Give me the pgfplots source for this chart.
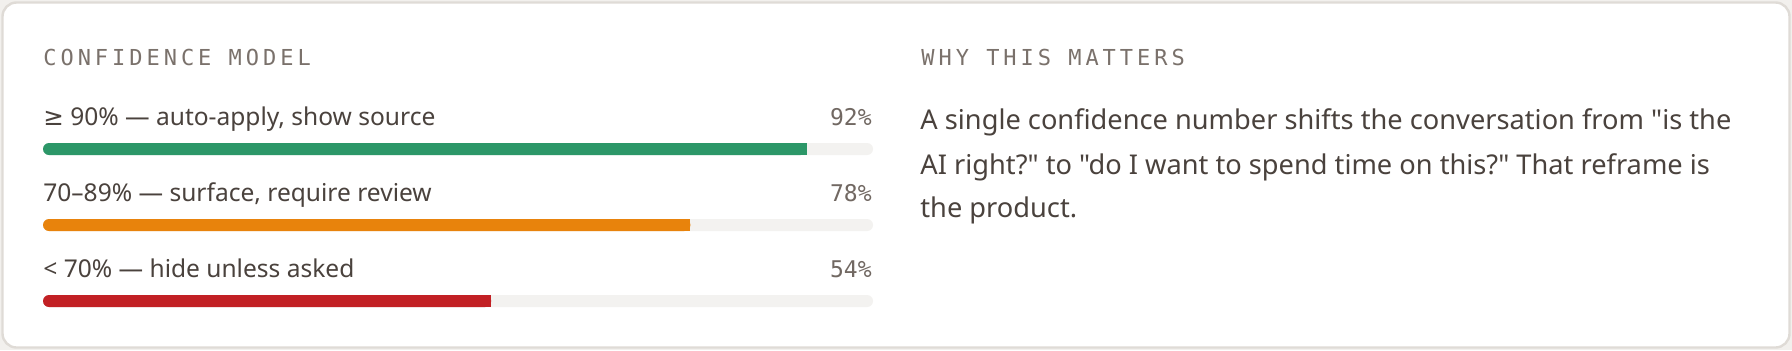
\documentclass[border=0pt]{standalone}
\usepackage{fontspec}
\usepackage{pgfplots}
\pgfplotsset{compat=1.18}
\usepackage{pgfplotstable}
\setmainfont{Noto Sans}[Ligatures=TeXOff]
\newfontfamily\monofont{DejaVu Sans Mono}
\newfontfamily\monospaced[LetterSpace=18]{DejaVu Sans Mono}
\newfontfamily\symfont{DejaVu Sans}
\definecolor{txt}{HTML}{4A423D}
\definecolor{muted}{HTML}{716862}
\definecolor{headc}{HTML}{7A716B}
\definecolor{trackc}{HTML}{F3F2F0}
\definecolor{greenc}{HTML}{2C9768}
\definecolor{orangec}{HTML}{E8830C}
\definecolor{redc}{HTML}{C22024}
\definecolor{borderc}{HTML}{DFDBD6}
\definecolor{outsidec}{HTML}{F2F0ED}
\newlength\tmpw
\begin{document}
\settowidth\tmpw{\fontsize{12pt}{14pt}\selectfont{\symfont ≥} 90\% — auto-apply, show source}%
\pgfmathsetmacro\lsize{12*196/\tmpw}%
\settowidth\tmpw{\fontsize{12pt}{14pt}\selectfont A single confidence number shifts the conversation from "is the}%
\pgfmathsetmacro\psize{12*405.5/\tmpw}%
\begin{tikzpicture}[x=0.5pt,y=0.5pt]
\path[use as bounding box, fill=outsidec] (0,0) rectangle (1792,350);
\draw[borderc, line width=1.2pt, fill=white, rounded corners=7pt] (2.5,2.5) rectangle (1789.5,347.5);
\begin{axis}[at={(21.5pt,21.5pt)}, anchor=south west, scale only axis,
  width=415pt, height=82pt, xmin=0, xmax=100,
  ymin=0.921053, ymax=3.078947, y dir=reverse, hide axis, clip=false]
% tracks (100%)
\addplot[fill=trackc, draw=none, rounded corners=3pt] coordinates {(0,0.921053) (100,0.921053) (100,1.078947) (0,1.078947)} -- cycle;
\addplot[fill=trackc, draw=none, rounded corners=3pt] coordinates {(0,1.921053) (100,1.921053) (100,2.078947) (0,2.078947)} -- cycle;
\addplot[fill=trackc, draw=none, rounded corners=3pt] coordinates {(0,2.921053) (100,2.921053) (100,3.078947) (0,3.078947)} -- cycle;
% values: 92, 78, 54
\addplot[fill=greenc, draw=none, rounded corners=3pt] coordinates {(0,0.921053) (92,0.921053) (92,1.078947) (0,1.078947)} -- cycle;
\addplot[fill=greenc, draw=none] coordinates {(46,0.921053) (92,0.921053) (92,1.078947) (46,1.078947)} -- cycle;
\addplot[fill=orangec, draw=none, rounded corners=3pt] coordinates {(0,1.921053) (78,1.921053) (78,2.078947) (0,2.078947)} -- cycle;
\addplot[fill=orangec, draw=none] coordinates {(39,1.921053) (78,1.921053) (78,2.078947) (39,2.078947)} -- cycle;
\addplot[fill=redc, draw=none, rounded corners=3pt] coordinates {(0,2.921053) (54,2.921053) (54,3.078947) (0,3.078947)} -- cycle;
\addplot[fill=redc, draw=none] coordinates {(27,2.921053) (54,2.921053) (54,3.078947) (27,3.078947)} -- cycle;
\end{axis}
% headers
\node[anchor=base west, inner sep=0, text=headc] at (43,285) {\monospaced\fontsize{11pt}{13pt}\selectfont CONFIDENCE MODEL};
\node[anchor=base west, inner sep=0, text=headc] at (921,285) {\monospaced\fontsize{11pt}{13pt}\selectfont WHY THIS MATTERS};
% labels
\node[anchor=base west, inner sep=0, text=txt] at (43,225) {\fontsize{\lsize pt}{\lsize pt}\selectfont{\symfont ≥} 90\% — auto-apply, show source};
\node[anchor=base west, inner sep=0, text=txt] at (43,149) {\fontsize{\lsize pt}{\lsize pt}\selectfont 70–89\% — surface, require review};
\node[anchor=base west, inner sep=0, text=txt] at (43,73) {\fontsize{\lsize pt}{\lsize pt}\selectfont < 70\% — hide unless asked};
% percents
\node[anchor=base east, inner sep=0, text=muted] at (872,225) {\monofont\fontsize{11.5pt}{13pt}\selectfont 92\%};
\node[anchor=base east, inner sep=0, text=muted] at (872,149) {\monofont\fontsize{11.5pt}{13pt}\selectfont 78\%};
\node[anchor=base east, inner sep=0, text=muted] at (872,73) {\monofont\fontsize{11.5pt}{13pt}\selectfont 54\%};
% paragraph
\node[anchor=base west, inner sep=0, text=txt] at (920,221) {\fontsize{\psize pt}{\psize pt}\selectfont A single confidence number shifts the conversation from "is the};
\node[anchor=base west, inner sep=0, text=txt] at (920,176) {\fontsize{\psize pt}{\psize pt}\selectfont AI right?" to "do I want to spend time on this?" That reframe is};
\node[anchor=base west, inner sep=0, text=txt] at (920,133) {\fontsize{\psize pt}{\psize pt}\selectfont the product.};
\end{tikzpicture}
\end{document}
